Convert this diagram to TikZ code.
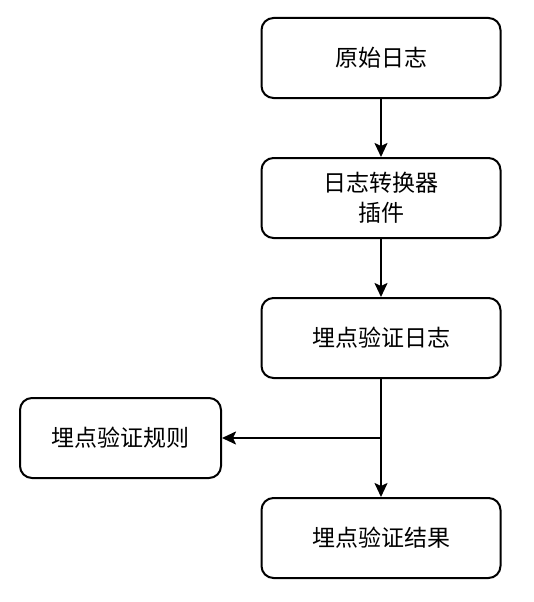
\documentclass[tikz,border=0pt]{standalone}
\usepackage{fontspec}
\newfontfamily\cjk{Noto Sans CJK SC}
\usetikzlibrary{arrows.meta}
\begin{document}
\begin{tikzpicture}[x=1pt,y=-1pt,
  box/.style={draw, line width=2pt, rounded corners=12pt, fill=white,
    minimum width=239pt, minimum height=80pt, inner sep=0pt, align=center,
    font=\cjk\fontsize{23}{30}\selectfont},
  smallbox/.style={box, minimum width=201pt},
  conn/.style={line width=2pt, -{Stealth[length=14pt,width=13pt,inset=3pt]}}]
\useasboundingbox (0,0) rectangle (534,602);
\fill[white] (0,0) rectangle (534,602);
\node[box] (b1) at (381,58) {原始日志};
\node[box] (b2) at (381,198) {日志转换器\\插件};
\node[box] (b3) at (381,338) {埋点验证日志};
\node[smallbox] (b4) at (120.5,438) {埋点验证规则};
\node[box] (b5) at (381,538) {埋点验证结果};
\coordinate (j) at (b3.south |- b4.east);
\draw[conn] (b1) -- (b2);
\draw[conn] (b2) -- (b3);
\draw[conn] (b3) -- (b5);
\draw[conn] (j) -- (b4);
\end{tikzpicture}
\end{document}
